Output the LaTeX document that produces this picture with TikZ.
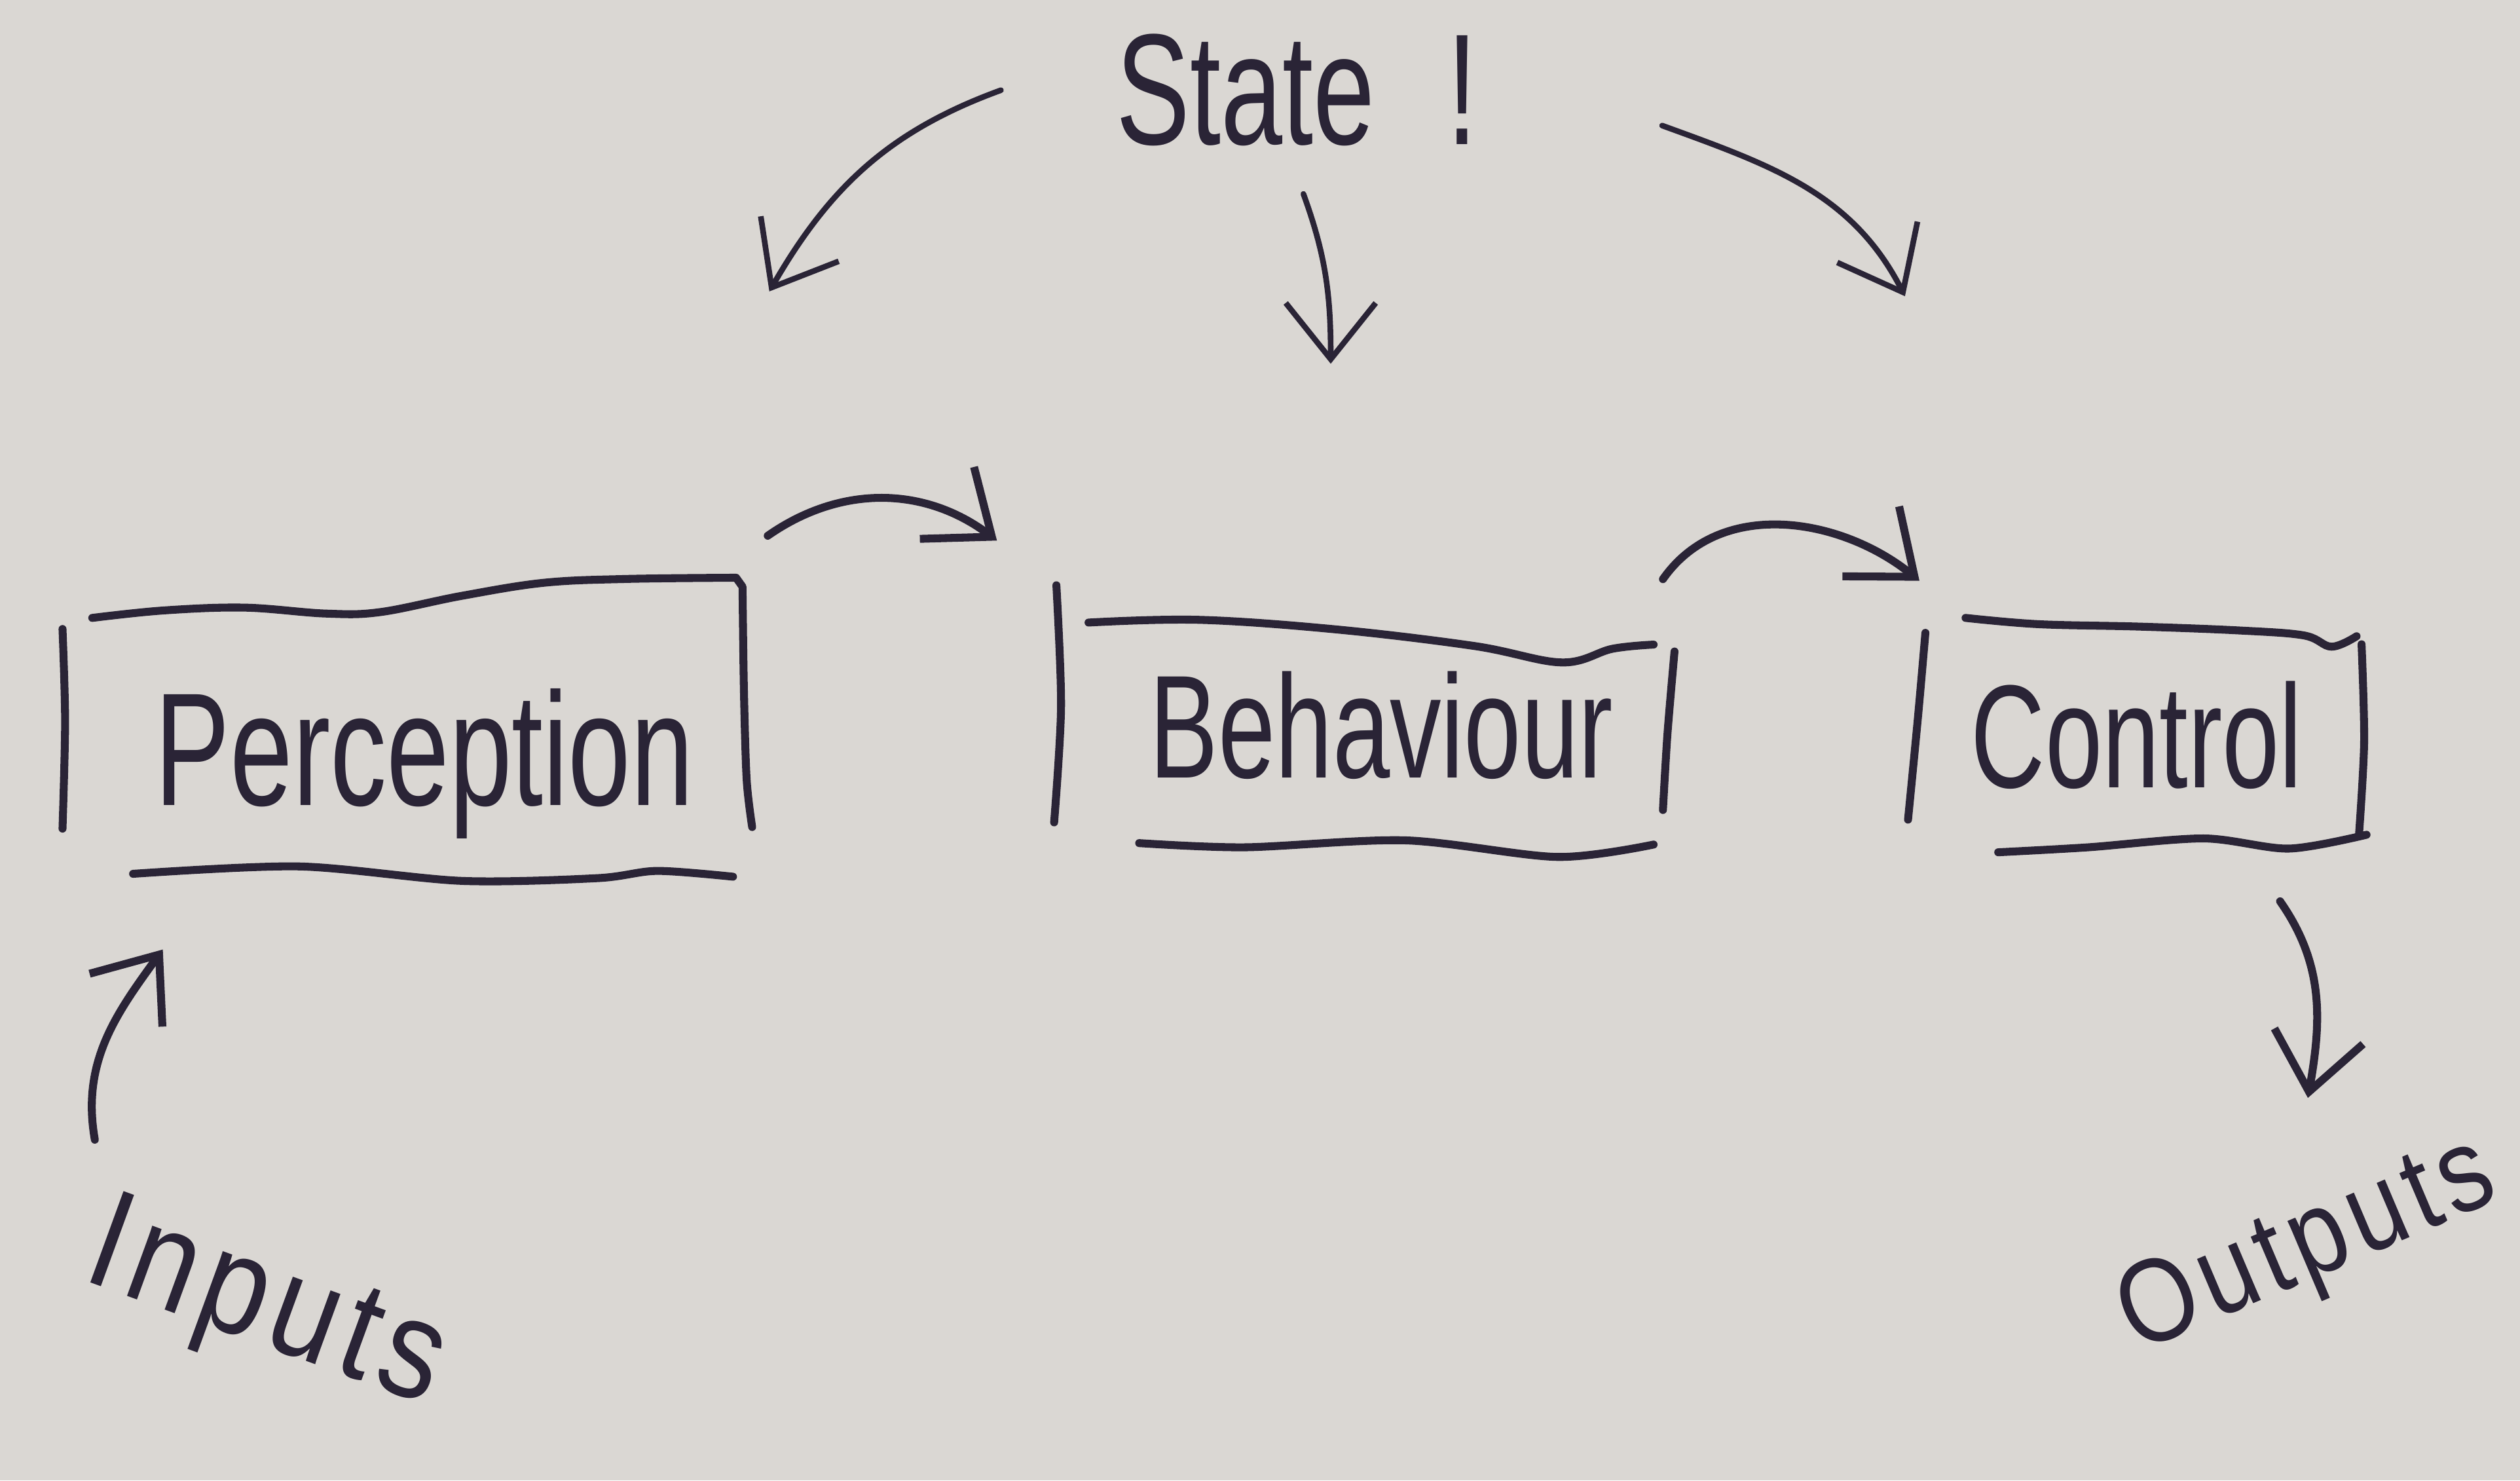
\documentclass[tikz,border=0pt]{standalone}
\usepackage{fontspec}
\newfontfamily\handfont[FakeStretch=0.7]{Liberation Sans}
\newfontfamily\sidefont[FakeStretch=0.85, LetterSpace=6]{Liberation Sans}
\usetikzlibrary{arrows.meta}
\definecolor{paperGray}{HTML}{DAD7D3}
\definecolor{inkNavy}{HTML}{2A2436}

\begin{document}
\begin{tikzpicture}[
    pen/.style={draw=inkNavy, line width=1.4pt, line cap=round, line join=round},
    link/.style={pen, -{Straight Barb[length=3.5mm, width=5.6mm]}},
    thinlink/.style={link, line width=1pt},
    block/.style={rectangle, inner sep=0pt, text=inkNavy,
      font=\handfont\fontsize{26}{30}\selectfont},
    hand/.style={inner sep=0pt, text=inkNavy}]
    \useasboundingbox (0,0) rectangle (15.68,9.21);
    \fill[paperGray] (0,0) rectangle (15.68,9.21);

    % the three blocks
    \node[block, font=\handfont\fontsize{28.5}{32}\selectfont,
      minimum width=4.26cm, text height=1.40cm, text depth=0.44cm]
      (per) at (2.53,4.68) {\hspace{0.22cm}Perception};
    \node[block, minimum width=3.87cm, text height=1.20cm, text depth=0.49cm]
      (beh) at (8.485,4.725) {\hspace{0.22cm}Behaviour};
    \node[block, minimum width=2.85cm, text height=1.06cm, text depth=0.40cm]
      (ctl) at (13.295,4.64) {Control\hspace{0.2cm}};

    % free labels
    \node[hand, anchor=base, font=\handfont\fontsize{28}{32}\selectfont]
      (state) at (8.07,8.31) {State\hspace{0.45cm}!};
    \node[hand, rotate=-20, font=\sidefont\fontsize{25}{30}\selectfont]
      (inputs) at (1.65,1.06) {Inputs};
    \node[hand, rotate=23, font=\sidefont\fontsize{21}{26}\selectfont]
      (outputs) at (14.36,1.44) {Outputs};

    % hand drawn box sides
    \draw[pen] plot[smooth] coordinates {(0.389,5.297) (0.405,4.72) (0.389,4.055)};
    \draw[pen] plot[smooth, tension=0.6] coordinates {(0.574,5.366) (1.014,5.412)
      (1.52,5.43) (2.027,5.393) (2.365,5.402) (2.872,5.503) (3.379,5.584)
      (3.886,5.608) (4.58,5.616)}
      -- plot[smooth] coordinates {(4.62,5.56) (4.629,4.903) (4.646,4.357)
      (4.68,4.065)};
    \draw[pen] plot[smooth] coordinates {(0.828,3.774) (1.858,3.82) (2.872,3.73)
      (3.717,3.747) (4.088,3.792) (4.561,3.756)};

    \draw[pen] plot[smooth] coordinates {(6.573,5.569) (6.602,4.814) (6.559,4.094)};
    \draw[pen] plot[smooth, tension=0.6] coordinates {(6.773,5.337) (7.46,5.354)
      (8.317,5.294) (9.175,5.191) (9.718,5.089) (10.033,5.174) (10.289,5.20)};
    \draw[pen] plot[smooth] coordinates {(10.419,5.157) (10.375,4.642) (10.347,4.171)};
    \draw[pen] plot[smooth] coordinates {(7.088,3.965) (7.745,3.939) (8.746,3.982)
      (9.69,3.879) (10.289,3.956)};

    \draw[pen] plot[smooth] coordinates {(11.98,5.273) (11.934,4.75) (11.872,4.111)};
    \draw[pen] plot[smooth, tension=0.6] coordinates {(12.23,5.366) (12.682,5.327)
      (13.306,5.312) (13.93,5.288) (14.335,5.257) (14.507,5.187) (14.663,5.252)};
    \draw[pen] plot[smooth] coordinates {(14.694,5.202) (14.71,4.594) (14.678,4.017)};
    \draw[pen] plot[smooth] coordinates {(12.433,3.908) (12.994,3.939) (13.711,3.994)
      (14.242,3.931) (14.725,4.017)};

    % arrows
    \draw[thinlink] ([shift={(-0.71,0)}]state.west) to[out=200, in=60]
      ([shift={(0.12,1.79)}]per.north east);
    \draw[thinlink] ([shift={(0.04,-0.29)}]state.south) to[out=-70, in=90]
      ([shift={(-0.205,1.37)}]beh.north);
    \draw[thinlink] ([shift={(1.14,-0.22)}]state.east) to[out=-20, in=117]
      ([shift={(-0.01,1.99)}]ctl.north west);
    \draw[link] ([shift={(0.11,0.27)}]per.north east) to[out=35, in=143]
      ([shift={(-0.34,0.27)}]beh.north west);
    \draw[link] ([shift={(-0.08,0.03)}]beh.north east) to[out=55, in=141]
      ([shift={(0.08,0.22)}]ctl.north west);
    \draw[link] ([shift={(-1.06,1.06)}]inputs.center) to[out=100, in=234]
      ([shift={(0.62,-0.45)}]per.south west);
    \draw[link] ([shift={(-0.54,-0.30)}]ctl.south east) to[out=-55, in=80]
      ([shift={(0,0.94)}]outputs.center);
  \end{tikzpicture}
\end{document}
